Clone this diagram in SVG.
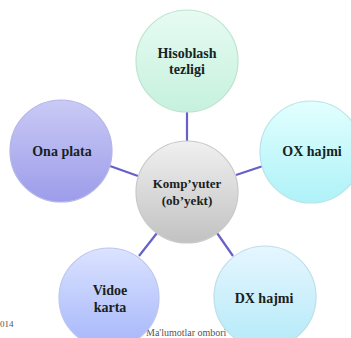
<svg xmlns="http://www.w3.org/2000/svg" width="351" height="338" viewBox="0 0 351 338">
<defs>
<linearGradient id="gTop" x1="0" y1="0" x2="0" y2="1"><stop offset="0" stop-color="#e6fbf2"/><stop offset="1" stop-color="#c6f1de"/></linearGradient>
<linearGradient id="gLeft" x1="0" y1="0" x2="0" y2="1"><stop offset="0" stop-color="#cacaf6"/><stop offset="1" stop-color="#9c9cea"/></linearGradient>
<linearGradient id="gRight" x1="0" y1="0" x2="0" y2="1"><stop offset="0" stop-color="#e2ffff"/><stop offset="1" stop-color="#aef2f8"/></linearGradient>
<linearGradient id="gCenter" x1="0" y1="0" x2="0" y2="1"><stop offset="0" stop-color="#f0f0f0"/><stop offset="1" stop-color="#c2c2c2"/></linearGradient>
<linearGradient id="gVid" x1="0" y1="0" x2="0" y2="1"><stop offset="0" stop-color="#dbe3ff"/><stop offset="1" stop-color="#a6b6fb"/></linearGradient>
<linearGradient id="gDx" x1="0" y1="0" x2="0" y2="1"><stop offset="0" stop-color="#e6f6ff"/><stop offset="1" stop-color="#b4eaf8"/></linearGradient>
</defs>
<style>
.lbl{font-family:"Liberation Serif","Times New Roman",serif;font-weight:bold;font-size:14px;fill:#172222;text-anchor:middle}
.c{stroke-width:1.2}
.conn line{stroke:#6660c8;stroke-width:2.2}
.foot{font-family:"Liberation Serif","Times New Roman",serif;font-size:9px;fill:#555}
</style>
<rect width="351" height="338" fill="#ffffff"/>
<text class="foot" x="0" y="327">014</text>
<text class="foot" x="146" y="336" style="font-size:10px">Ma'lumotlar ombori</text>
<g id="connectors" class="conn">
<line x1="187" y1="111" x2="187" y2="142"/>
<line x1="110" y1="166" x2="138" y2="176"/>
<line x1="236" y1="175" x2="263" y2="166"/>
<line x1="157" y1="233" x2="139" y2="256"/>
<line x1="217" y1="233" x2="233" y2="256"/>
</g>
<g id="n-top"><circle class="c" cx="187" cy="61" r="51" fill="url(#gTop)" stroke="#bfe3cf"/>
<text class="lbl" x="187" y="58">Hisoblash</text><text class="lbl" x="187" y="74">tezligi</text></g>
<g id="n-left"><circle class="c" cx="61" cy="151" r="51" fill="url(#gLeft)" stroke="#b4b4e8"/>
<text class="lbl" x="62" y="156">Ona plata</text></g>
<g id="n-right"><circle class="c" cx="311" cy="152" r="51" fill="url(#gRight)" stroke="#b8e4e8"/>
<text class="lbl" x="312" y="156">OX hajmi</text></g>
<g id="n-center"><circle class="c" cx="187" cy="192" r="51" fill="url(#gCenter)" stroke="#c8c8c8"/>
<text class="lbl" x="187" y="188" style="font-size:13px">Komp’yuter</text><text class="lbl" x="187" y="205" style="font-size:13px">(ob’yekt)</text></g>
<g id="n-vid"><circle class="c" cx="109" cy="298" r="50" fill="url(#gVid)" stroke="#bcc6f0"/>
<text class="lbl" x="110" y="295">Vidoe</text><text class="lbl" x="110" y="312">karta</text></g>
<g id="n-dx"><circle class="c" cx="265" cy="297" r="51" fill="url(#gDx)" stroke="#bcdfe8"/>
<text class="lbl" x="264" y="303">DX hajmi</text></g>
</svg>
